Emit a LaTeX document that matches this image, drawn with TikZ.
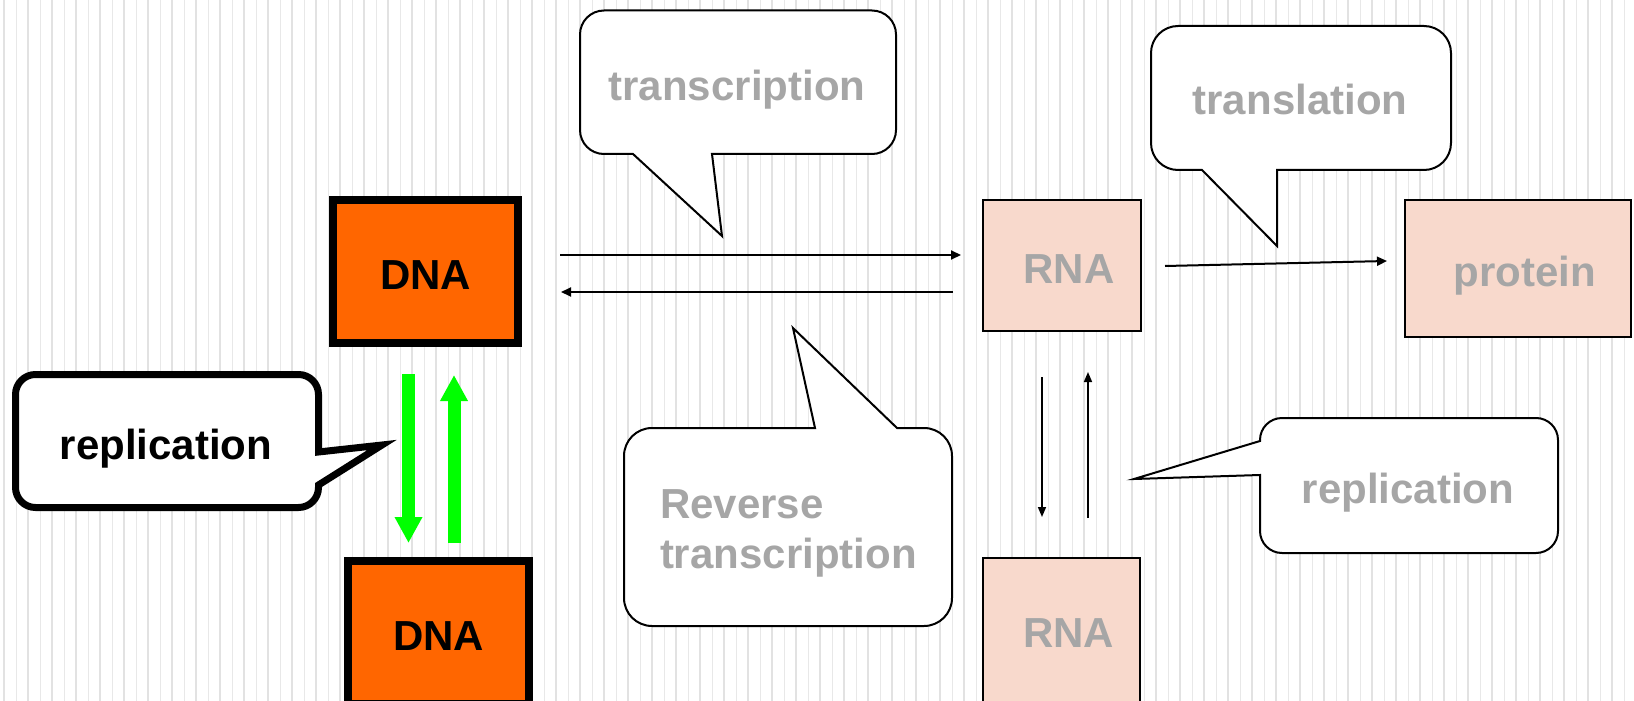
\documentclass[tikz,border=0pt]{standalone}
\usepackage{fontspec}
\setmainfont{Liberation Sans}
\usetikzlibrary{arrows.meta,calc}
\definecolor{dnaorange}{HTML}{FF6600}
\definecolor{rnapink}{HTML}{F8D9CC}
\definecolor{txtgray}{HTML}{A6A6A6}
\definecolor{stripedark}{HTML}{E2E2E2}
\definecolor{stripelight}{HTML}{E8E8E8}
\definecolor{brightgreen}{HTML}{00FF00}
\tikzset{
  bigfont/.style={font=\fontsize{21pt}{25pt}\selectfont\bfseries},
  boxtext/.style={text height=17.5pt, text depth=0pt},
  dnabox/.style={draw=black, line width=4pt, fill=dnaorange, inner sep=0pt, outer sep=0pt, bigfont, boxtext, text=black},
  rnabox/.style={draw=black, line width=1pt, fill=rnapink, inner sep=0pt, outer sep=0pt, bigfont, boxtext, text=txtgray},
  lbl/.style={inner sep=0pt, outer sep=0pt, bigfont, text=txtgray},
  calloutthin/.style={draw=black, fill=white, line width=1pt, line join=miter},
  calloutthick/.style={draw=black, fill=white, line width=3.5pt, line join=miter},
  thinarr/.style={draw=black, line width=1pt, -{Triangle[length=5pt,width=4.5pt]}},
  smallarr/.style={draw=black, line width=0.8pt, -{Triangle[length=5pt,width=4pt]}},
  greenarr/.style={draw=brightgreen, line width=6.5pt, -{Triangle[length=13pt,width=13pt]}},
}
\begin{document}
\begin{tikzpicture}[x=0.5pt,y=-0.5pt]
\useasboundingbox (0,0) rectangle (1634,701);
\clip (0,0) rectangle (1634,701);
\fill[white] (0,0) rectangle (1634,701);
% background stripes
\foreach \i in {0,...,67} {
  \draw[stripedark, line width=1pt] ({4+24*\i},0) -- ({4+24*\i},701);
  \draw[stripelight, line width=0.5pt] ({16+24*\i},0) -- ({16+24*\i},701);
}
% callouts
\draw[calloutthin] (580,34.5) arc[start angle=180,end angle=270,radius=24] -- (872,10.5)
  arc[start angle=270,end angle=360,radius=24] -- (896,130)
  arc[start angle=0,end angle=90,radius=24] -- (712,154) -- (722,236) -- (633,154) -- (604,154)
  arc[start angle=90,end angle=180,radius=24] -- cycle;
\draw[calloutthin] (1151,53) arc[start angle=180,end angle=270,radius=27] -- (1424,26)
  arc[start angle=270,end angle=360,radius=27] -- (1451,143)
  arc[start angle=0,end angle=90,radius=27] -- (1277,170) -- (1277,246) -- (1202,170) -- (1178,170)
  arc[start angle=90,end angle=180,radius=27] -- cycle;
\draw[calloutthin] (624,456) arc[start angle=180,end angle=270,radius=28] -- (815,428) -- (793,328) -- (897,428) -- (924,428)
  arc[start angle=270,end angle=360,radius=28] -- (952,598)
  arc[start angle=0,end angle=90,radius=28] -- (652,626)
  arc[start angle=90,end angle=180,radius=28] -- cycle;
\draw[calloutthin] (1282,418) -- (1536,418)
  arc[start angle=270,end angle=360,radius=22] -- (1558,531)
  arc[start angle=0,end angle=90,radius=22] -- (1282,553)
  arc[start angle=90,end angle=180,radius=22] -- (1260,475) -- (1134,479) -- (1260,441) -- (1260,440)
  arc[start angle=180,end angle=270,radius=22] -- cycle;
\draw[calloutthick] (15.5,394.5) arc[start angle=180,end angle=270,radius=20] -- (298.5,374.5)
  arc[start angle=270,end angle=360,radius=20] -- (318.5,452) -- (382,445) -- (318.5,485) -- (318.5,487.5)
  arc[start angle=0,end angle=90,radius=20] -- (35.5,507.5)
  arc[start angle=90,end angle=180,radius=20] -- cycle;
% boxes
\node[dnabox, minimum width=92.5pt, minimum height=71.5pt] (dna1) at (425.5,271.5) {DNA};
\node[dnabox, minimum width=90.5pt, minimum height=71.5pt] (dna2) at (438.5,632.5) {DNA};
\node[rnabox, minimum width=79pt, minimum height=65.5pt] (rna1) at (1062,265.5) {\hspace*{7pt}RNA};
\node[rnabox, minimum width=78.5pt, minimum height=72pt] (rna2) at (1061.5,630) {\hspace*{7pt}RNA};
\node[rnabox, minimum width=113pt, minimum height=68.5pt] (prot) at (1518,268.5) {\hspace*{7pt}protein};
% callout texts
\node[lbl, anchor=base] (ttranscr) at (737,101) {transcription};
\node[lbl, anchor=base] (ttransl) at (1300,115) {translation};
\node[lbl, anchor=base, text=black] (trepl1) at (166,459) {replication};
\node[lbl, anchor=base] (trepl2) at (1408,503) {replication};
\node[lbl, anchor=north west, align=left] (trev) at (660,489.5) {Reverse\\transcription};
% connectors
\draw[thinarr] ($(dna1.east)+(42,-16.5)$) -- ($(rna1.west)+(-22,-10.5)$);
\draw[thinarr] ($(rna1.west)+(-30,26.5)$) -- ($(dna1.east)+(43,20.5)$);
\draw[thinarr] ($(rna1.east)+(24,0.5)$) -- ($(prot.west)+(-18,-7.5)$);
\draw[smallarr] ($(rna1.south)+(-20,46)$) -- ($(rna2.north)+(-19.5,-41)$);
\draw[smallarr] ($(rna2.north)+(26.5,-40)$) -- ($(rna1.south)+(26,41)$);
\draw[greenarr] ($(dna1.south)+(-17,31)$) -- ($(dna2.north)+(-30,-18)$);
\draw[greenarr] ($(dna2.north)+(15.5,-18)$) -- ($(dna1.south)+(28.5,32)$);
\end{tikzpicture}
\end{document}
